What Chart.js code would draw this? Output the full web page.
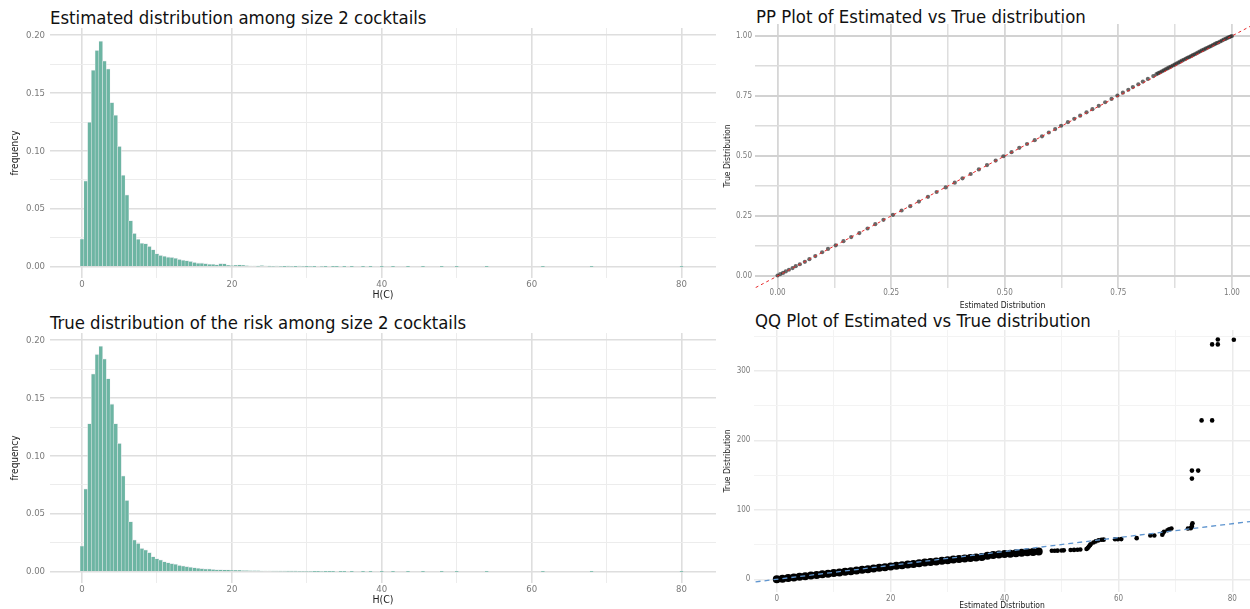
<!DOCTYPE html>
<html>
<head>
<meta charset="utf-8">
<script src="https://cdn.jsdelivr.net/npm/chart.js@4.4.1/dist/chart.umd.min.js"></script>
<style>
  html, body { margin: 0; padding: 0; background: #fff; }
  body { width: 1250px; height: 609px; position: relative; overflow: hidden; }
  canvas { position: absolute; }
  .ttl { position: absolute; white-space: nowrap; color: #111; font-family: "Liberation Sans Narrow", "DejaVu Sans Condensed", sans-serif; font-size: 18.4px; line-height: 1; }
</style>
</head>
<body>
<div class="ttl" style="left:50px;top:9.4px">Estimated distribution among size 2 cocktails</div>
<div class="ttl" style="left:50px;top:314.4px">True distribution of the risk among size 2 cocktails</div>
<div class="ttl" style="left:756px;top:8.4px">PP Plot of Estimated vs True distribution</div>
<div class="ttl" style="left:755px;top:312.4px">QQ Plot of Estimated vs True distribution</div>

<canvas id="histEst" width="720" height="305" style="left:0;top:0"></canvas>
<canvas id="histTrue" width="720" height="304" style="left:0;top:305px"></canvas>
<canvas id="pp" width="530" height="312" style="left:720px;top:0"></canvas>
<canvas id="qq" width="530" height="310" style="left:720px;top:305px"></canvas>

<script>
// ---------- data ----------
// Histogram of H(C), bins of width 0.5 starting at 0
const binWidth = 0.5;

const estimatedFreq = [
  0.0241, 0.0744, 0.1250, 0.1700, 0.1870, 0.1950, 0.1780, 0.1710, 0.1420, 0.1310,
  0.1040, 0.0793, 0.0621, 0.0400, 0.0290, 0.0240, 0.0205, 0.0200, 0.0178, 0.0148,
  0.0115, 0.0100, 0.0092, 0.0085, 0.0081, 0.0076, 0.0064, 0.0058, 0.0053, 0.0047,
  0.0038, 0.0033, 0.0033, 0.0029, 0.0024, 0.0023, 0.0020, 0.0029, 0.0028, 0.0014,
  0.0011, 0.0014, 0.0017, 0.0014, 0.0009, 0.0006, 0.0006, 0.0003, 0.0011, 0.0006,
  0.0003, 0.0002, 0.0005, 0.0002, 0.0001, 0.0003, 0.0002, 0.0001, 0.0004, 0.0002,
  0.0001, 0.0002, 0.0001, 0,      0.0002, 0.0001, 0,      0.0001, 0.0001, 0,
  0.0001, 0,      0.0001, 0,      0,      0.0001, 0,      0.0001, 0,      0,
  0.0001, 0,      0,      0.0001, 0,      0,      0,      0.0001, 0,      0,
  0,      0.0001, 0,      0,      0,      0,      0.0001, 0,      0,      0,
  0.0001, 0,      0,      0,      0,      0,      0,      0,      0.0001, 0,
  0,      0,      0,      0,      0,      0,      0,      0,      0,      0,
  0,      0,      0,      0.0001, 0,      0,      0,      0,      0,      0,
  0,      0,      0,      0,      0,      0,      0.0001, 0,      0,      0,
  0,      0,      0,      0,      0,      0,      0,      0,      0,      0,
  0,      0,      0,      0,      0,      0,      0,      0,      0,      0,
  0.0001
];

const trueFreq = [
  0.0224, 0.0716, 0.1280, 0.1710, 0.1880, 0.1950, 0.1840, 0.1670, 0.1450, 0.1280,
  0.1110, 0.0830, 0.0618, 0.0434, 0.0276, 0.0247, 0.0204, 0.0190, 0.0167, 0.0132,
  0.0115, 0.0103, 0.0089, 0.0080, 0.0072, 0.0066, 0.0057, 0.0052, 0.0046, 0.0040,
  0.0037, 0.0032, 0.0029, 0.0026, 0.0025, 0.0022, 0.0020, 0.0019, 0.0017, 0.0016,
  0.0014, 0.0013, 0.0012, 0.0011, 0.0010, 0.0009, 0.0008, 0.0008, 0.0007, 0.0006,
  0.0006, 0.0005, 0.0005, 0.0004, 0.0004, 0.0003, 0.0003, 0.0003, 0.0002, 0.0002,
  0.0002, 0.0002, 0.0001, 0.0001, 0.0002, 0.0001, 0.0001, 0.0001, 0,      0.0001,
  0.0001, 0,      0.0001, 0,      0,      0.0001, 0,      0.0001, 0,      0,
  0.0001, 0,      0,      0.0001, 0,      0,      0,      0.0001, 0,      0,
  0,      0.0001, 0,      0,      0,      0,      0.0001, 0,      0,      0,
  0.0001, 0,      0,      0,      0,      0,      0,      0,      0.0001, 0,
  0,      0,      0,      0,      0,      0,      0,      0,      0,      0,
  0,      0,      0,      0.0001, 0,      0,      0,      0,      0,      0,
  0,      0,      0,      0,      0,      0,      0.0001, 0,      0,      0,
  0,      0,      0,      0,      0,      0,      0,      0,      0,      0,
  0,      0,      0,      0,      0,      0,      0,      0,      0,      0,
  0.0001
];

const histXTicks = [0, 20, 40, 60, 80];
const histYTicks = [0, 0.05, 0.10, 0.15, 0.20];

// PP plot: cumulative probabilities, estimated vs true
const ppEstimated = [
  0.000, 0.006, 0.012, 0.018, 0.025, 0.033, 0.040, 0.049, 0.060, 0.070,
  0.083, 0.098, 0.111, 0.128, 0.145, 0.162, 0.180, 0.198, 0.215, 0.233,
  0.254, 0.273, 0.292, 0.311, 0.331, 0.350, 0.370, 0.390, 0.407, 0.425,
  0.443, 0.461, 0.480, 0.497, 0.515, 0.532, 0.549, 0.566, 0.582, 0.597,
  0.611, 0.624, 0.639, 0.653, 0.666, 0.680, 0.693, 0.707, 0.721, 0.735,
  0.748, 0.760, 0.772, 0.782, 0.794, 0.804, 0.815, 0.827,
  0.834, 0.838, 0.842, 0.846, 0.850, 0.854, 0.858, 0.862, 0.866, 0.870,
  0.874, 0.878, 0.882, 0.886, 0.890, 0.894, 0.898, 0.902, 0.906, 0.910,
  0.914, 0.918, 0.922, 0.926, 0.930, 0.934, 0.938, 0.942, 0.946, 0.950,
  0.954, 0.958, 0.962, 0.966, 0.970, 0.974, 0.978, 0.982, 0.986, 0.990,
  0.994, 0.997, 1.000
];
const ppTrue = [
  0.002, 0.008, 0.013, 0.019, 0.026, 0.033, 0.041, 0.049, 0.059, 0.070,
  0.083, 0.099, 0.113, 0.128, 0.145, 0.162, 0.179, 0.198, 0.216, 0.234,
  0.255, 0.273, 0.291, 0.310, 0.330, 0.350, 0.369, 0.389, 0.407, 0.425,
  0.444, 0.462, 0.481, 0.499, 0.516, 0.534, 0.550, 0.566, 0.582, 0.598,
  0.612, 0.626, 0.641, 0.655, 0.668, 0.682, 0.695, 0.709, 0.724, 0.738,
  0.752, 0.764, 0.776, 0.787, 0.799, 0.810, 0.821, 0.833,
  0.841, 0.845, 0.849, 0.853, 0.857, 0.861, 0.865, 0.869, 0.873, 0.877,
  0.881, 0.885, 0.889, 0.893, 0.897, 0.901, 0.905, 0.909, 0.912, 0.916,
  0.920, 0.924, 0.928, 0.932, 0.936, 0.940, 0.943, 0.947, 0.951, 0.955,
  0.958, 0.962, 0.966, 0.970, 0.973, 0.977, 0.981, 0.985, 0.988, 0.992,
  0.995, 0.998, 1.000
];
const ppTicks = [0, 0.25, 0.5, 0.75, 1];

// QQ plot: quantiles, estimated vs true (dense body, then the sparse upper tail)
const qqBodyEstimated = [
  0, 1, 2, 3, 4, 5, 6, 7, 8, 9,
  10, 11, 12, 13, 14, 15, 16, 17, 18, 19,
  20, 21, 22, 23, 24, 25, 26, 27, 28, 29,
  30, 31, 32, 33, 34, 35, 36, 37, 38, 39,
  40, 41, 42, 43, 44, 45, 46
];
const qqBodyTrue = [
  0, 0.8, 1.7, 2.6, 3.5, 4.4, 5.3, 6.2, 7.1, 8.0,
  8.9, 9.8, 10.7, 11.6, 12.6, 13.6, 14.5, 15.5, 16.5, 17.4,
  18.4, 19.3, 20.2, 21.2, 22.1, 23.0, 24.0, 24.9, 25.7, 26.6,
  27.5, 28.4, 29.3, 30.0, 30.6, 31.2, 32.0, 34.0, 35.0, 35.8,
  36.3, 36.8, 37.5, 38.2, 38.8, 39.4, 40.0
];
const qqTailEstimated = [
  48.3, 48.8, 49.3, 50.0, 50.4,
  51.6, 52.2, 52.8, 53.3,
  54.4, 54.6, 54.8, 55.0, 55.1,
  55.6, 56.0, 56.5, 57.0, 57.4,
  59.4, 59.9, 60.5,
  63.2,
  65.6, 66.3,
  67.7, 67.8, 68.0, 68.6, 68.9, 69.3,
  72.2, 72.7, 72.9, 72.9, 73.0,
  72.9, 72.9, 74.0,
  74.6, 76.45,
  76.45, 77.45, 77.45, 80.26
];
const qqTailTrue = [
  41.0, 41.0, 41.2, 41.5, 41.6,
  42.2, 42.3, 42.5, 42.8,
  43.5, 45.0, 47.0, 49.0, 50.5,
  53.0, 54.5, 56.0, 56.8, 57.0,
  57.6, 57.7, 57.8,
  59.2,
  63.0, 63.0,
  64.0, 66.5, 68.5, 70.5, 72.0, 73.0,
  73.0, 73.6, 75.5, 78.0, 80.5,
  144.9, 156.4, 156.4,
  228.6, 228.6,
  338.0, 338.0, 345.0, 344.6
];
const qqXTicks = [0, 20, 40, 60, 80];
const qqYTicks = [0, 100, 200, 300];

// ---------- helpers ----------
const FONT = '"Liberation Sans Narrow", "DejaVu Sans Condensed", sans-serif';

function gridValues(majors, min, max) {
  const step = majors[1] - majors[0];
  const out = [];
  for (let k = -2; k <= (majors.length - 1) * 2 + 2; k++) {
    const v = +(majors[0] + k * step / 2).toFixed(6);
    if (v >= min - 1e-9 && v <= max + 1e-9) out.push(v);
  }
  return out;
}
const isMajor = (majors, v) => majors.some(m => Math.abs(m - v) < 1e-6);
const tickIsMajor = (majors, c) => !!(c && c.tick) && isMajor(majors, c.tick.value);

function makeAxis(o) {
  const vals = gridValues(o.majors, o.min, o.max);
  return {
    type: 'linear', min: o.min, max: o.max, offset: false,
    afterBuildTicks: s => { s.ticks = vals.map(v => ({ value: v })); },
    afterFit: s => { if (o.horizontal) s.height = o.extent; else s.width = o.extent; },
    border: { display: false },
    grid: {
      offset: false,
      drawTicks: false,
      color: c => tickIsMajor(o.majors, c) ? o.gridMajor : o.gridMinor,
      lineWidth: c => tickIsMajor(o.majors, c) ? o.wMajor : o.wMinor
    },
    ticks: {
      autoSkip: false, maxRotation: 0, minRotation: 0, padding: o.tickPad,
      color: '#7a7a7a', font: { family: FONT, size: o.tickSize, lineHeight: 1.2 },
      callback: v => isMajor(o.majors, v) ? o.fmt(v) : ''
    },
    title: {
      display: true, text: o.title, color: '#222',
      font: { family: FONT, size: o.titleSize, lineHeight: 1.2 },
      padding: o.titlePad
    }
  };
}

const baseOptions = (pad, scales) => ({
  responsive: false, animation: false, devicePixelRatio: 1,
  layout: { padding: pad, autoPadding: false },
  plugins: { legend: { display: false }, tooltip: { enabled: false }, title: { display: false } },
  scales
});

// ---------- histograms ----------
function histogram(id, freq, canvasH, titleBottomPad) {
  const pts = freq.map((v, i) => ({ x: i * binWidth, y: v }));
  new Chart(document.getElementById(id), {
    type: 'bar',
    data: {
      datasets: [{
        data: pts,
        backgroundColor: '#6db5a3',
        borderColor: '#e9ecef',
        borderWidth: { top: 0.8, left: 0.5, right: 0.5, bottom: 0 },
        borderSkipped: false,
        barPercentage: 1, categoryPercentage: 1
      }]
    },
    options: baseOptions({ top: 28, right: 4, left: 0, bottom: 0 }, {
      x: makeAxis({
        horizontal: true, extent: canvasH - 278, min: -4.27, max: 84.6, majors: histXTicks,
        fmt: v => String(v), tickSize: 9.5, tickPad: 0.8,
        gridMajor: '#dedede', gridMinor: '#ececec', wMajor: 1.6, wMinor: 1,
        title: 'H(C)', titleSize: 10.5, titlePad: { top: 0, bottom: titleBottomPad }
      }),
      y: makeAxis({
        horizontal: false, extent: 50, min: -0.0097, max: 0.2063, majors: histYTicks,
        fmt: v => v.toFixed(2), tickSize: 9.5, tickPad: 5,
        gridMajor: '#dedede', gridMinor: '#ececec', wMajor: 1.6, wMinor: 1,
        title: 'frequency', titleSize: 10, titlePad: { top: 9, bottom: 0 }
      })
    })
  });
}
histogram('histEst', estimatedFreq, 305, 3.2);
histogram('histTrue', trueFreq, 304, 2.2);

// ---------- PP plot ----------
new Chart(document.getElementById('pp'), {
  type: 'scatter',
  data: {
    datasets: [
      {
        type: 'line', order: 0,
        data: [{ x: -0.2, y: -0.2 }, { x: 1.2, y: 1.2 }],
        borderColor: '#e8292b', borderWidth: 1, borderDash: [3, 3],
        pointRadius: 0, fill: false
      },
      {
        order: 1,
        data: ppEstimated.map((v, i) => ({ x: v, y: ppTrue[i] })),
        backgroundColor: 'rgba(40,40,40,0.7)', borderWidth: 0, pointRadius: 2.1
      }
    ]
  },
  options: baseOptions({ top: 24, right: 0, left: 0, bottom: 0 }, {
    x: makeAxis({
      horizontal: true, extent: 312 - 288, min: -0.0497, max: 1.0398, majors: ppTicks,
      fmt: v => v.toFixed(2), tickSize: 8, tickPad: 0.6,
      gridMajor: '#d6d6d6', gridMinor: '#dedede', wMajor: 1.8, wMinor: 1.5,
      title: 'Estimated Distribution', titleSize: 8.5, titlePad: { top: 0, bottom: 1.6 }
    }),
    y: makeAxis({
      horizontal: false, extent: 35, min: -0.05, max: 1.05, majors: ppTicks,
      fmt: v => v.toFixed(2), tickSize: 8, tickPad: 3,
      gridMajor: '#d2d2d2', gridMinor: '#dcdcdc', wMajor: 2, wMinor: 1.6,
      title: 'True Distribution', titleSize: 8.5, titlePad: { top: 2.4, bottom: 0 }
    })
  })
});

// ---------- QQ plot ----------
new Chart(document.getElementById('qq'), {
  type: 'scatter',
  data: {
    datasets: [
      {
        type: 'line', order: 0,
        data: [{ x: -10, y: -10 }, { x: 100, y: 100 }],
        borderColor: '#5f95cf', borderWidth: 1.3, borderDash: [5, 4],
        pointRadius: 0, fill: false
      },
      {
        order: 1, showLine: true,
        data: qqBodyEstimated.map((v, i) => ({ x: v, y: qqBodyTrue[i] })),
        borderColor: '#000', borderWidth: 3.6, backgroundColor: '#000', pointRadius: 2.2
      },
      {
        order: 1,
        data: qqTailEstimated.map((v, i) => ({ x: v, y: qqTailTrue[i] })),
        backgroundColor: '#000', borderWidth: 0, pointRadius: 2.3
      }
    ]
  },
  options: baseOptions({ top: 25, right: 0, left: 0, bottom: 0 }, {
    x: makeAxis({
      horizontal: true, extent: 310 - 287, min: -4.0, max: 83.1, majors: qqXTicks,
      fmt: v => String(v), tickSize: 8, tickPad: 2.4,
      gridMajor: '#ebebeb', gridMinor: '#f3f3f3', wMajor: 1.5, wMinor: 1,
      title: 'Estimated Distribution', titleSize: 8.5, titlePad: { top: 0, bottom: 4.4 }
    }),
    y: makeAxis({
      horizontal: false, extent: 34, min: -18.3, max: 358.7, majors: qqYTicks,
      fmt: v => String(v), tickSize: 8, tickPad: 3.6,
      gridMajor: '#ebebeb', gridMinor: '#f3f3f3', wMajor: 1.5, wMinor: 1,
      title: 'True Distribution', titleSize: 8.5, titlePad: { top: 2.4, bottom: 0 }
    })
  })
});
</script>
</body>
</html>
